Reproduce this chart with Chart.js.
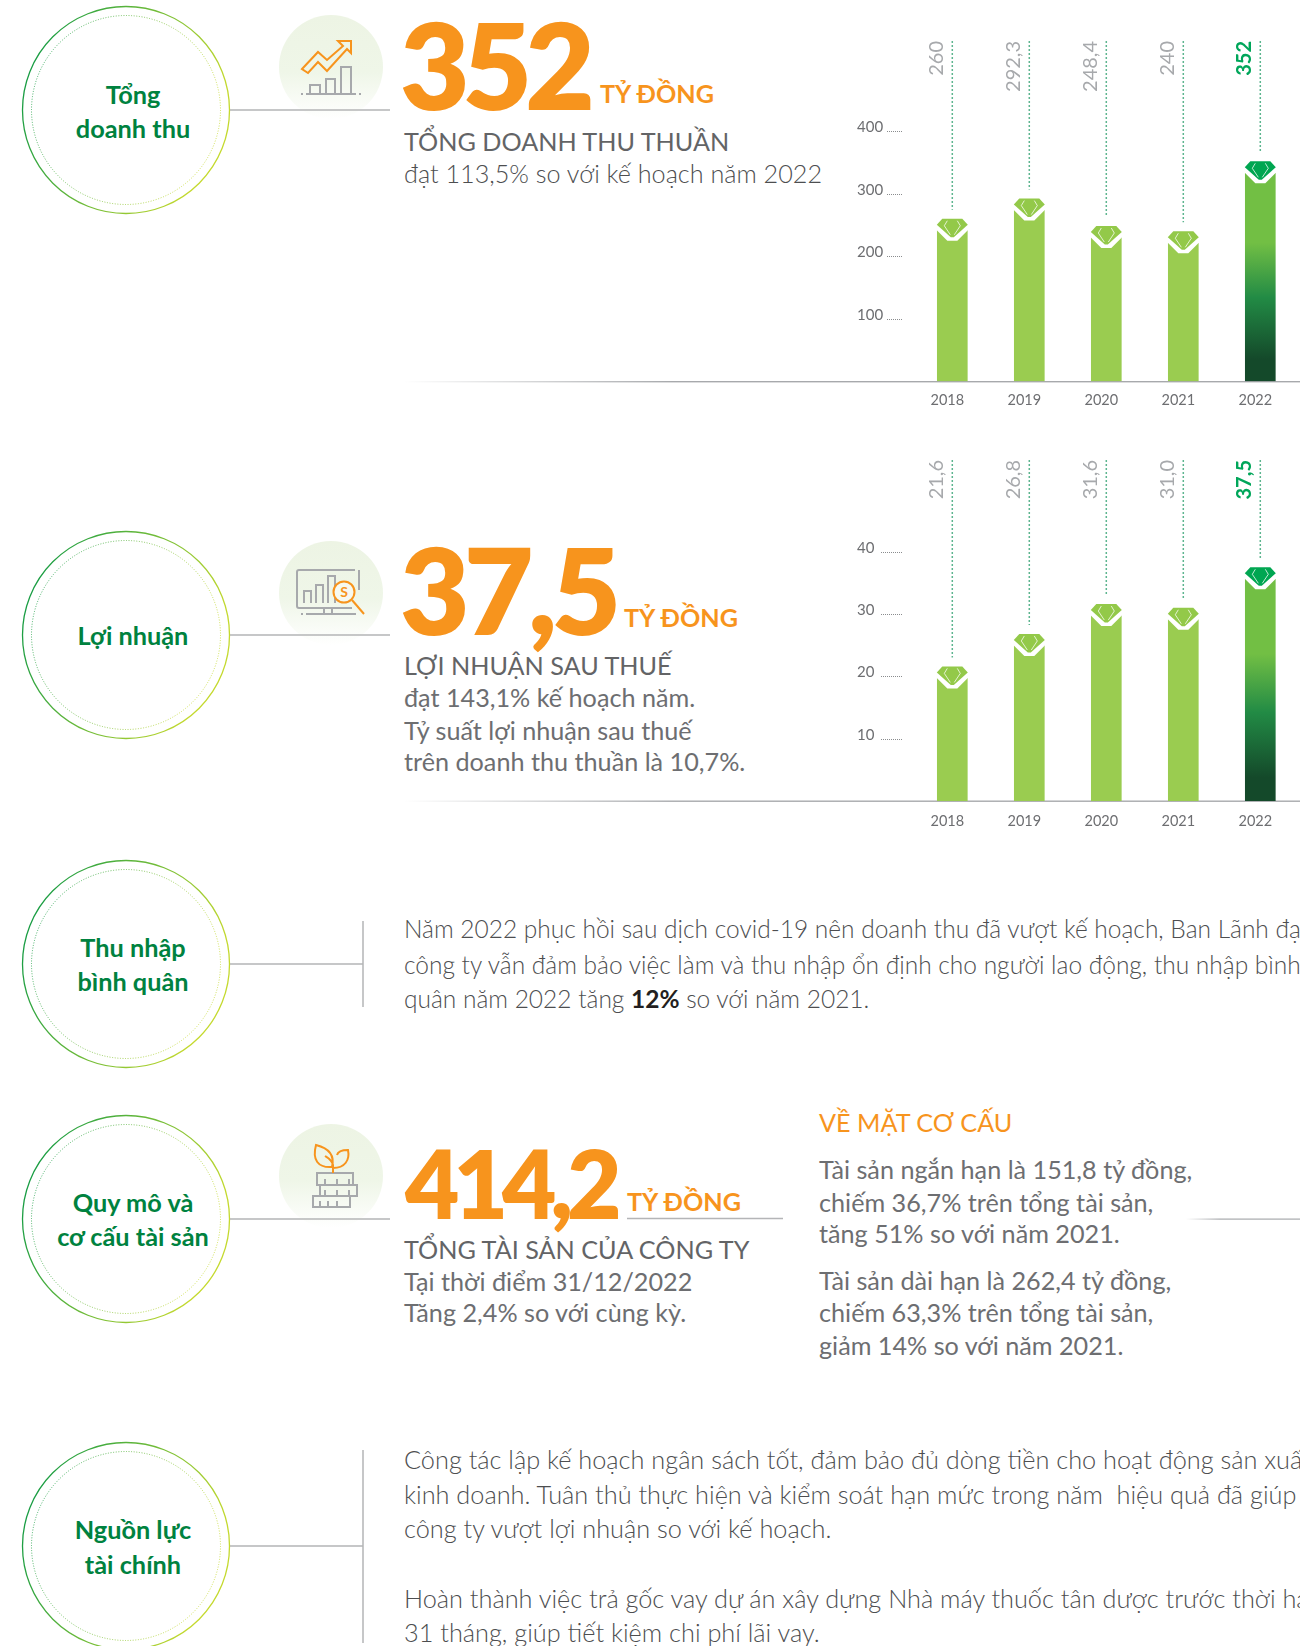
<!DOCTYPE html>
<html lang="vi">
<head>
<meta charset="utf-8">
<title>Tổng doanh thu</title>
<script src="https://cdn.jsdelivr.net/npm/chart.js@4"></script>
<style>
html, body { margin: 0; padding: 0; background: #fff; width: 1300px; height: 1646px; overflow: hidden; }
svg { position: absolute; left: 0; top: 0; }
canvas { position: absolute; }
text { font-family: Lato, "Open Sans", sans-serif; }
.big { font-weight: 800; fill: #F7941D; }
.unit { font-size: 25.2px; font-weight: 700; fill: #F7941D; }
.head { font-size: 25.2px; fill: #636466; }
.body { font-size: 25.2px; fill: #6D6E71; }
.light { font-size: 25.2px; font-weight: 300; fill: #4D4E50; }
.para { font-size: 24.5px; font-weight: 300; fill: #4D4E50; }
.para5 { font-size: 25.3px; font-weight: 300; fill: #4D4E50; }
.name { font-size: 25.3px; font-weight: 700; fill: #00823F; text-anchor: middle; }
.ln { stroke: #B4B5B7; stroke-width: 1.5; fill: none; }
.gr { stroke: #A7A9AC; stroke-width: 2; fill: none; }
.or { stroke: #F7941D; stroke-width: 2; fill: none; }
</style>
</head>
<body>
<svg width="1300" height="1646" xmlns="http://www.w3.org/2000/svg">
  <defs>
    <linearGradient id="ring" x1="0" y1="0" x2="1" y2="0.35">
      <stop offset="0" stop-color="#009447"/><stop offset="1" stop-color="#C4D92E"/>
    </linearGradient>
    <linearGradient id="soft" x1="0" y1="0" x2="0" y2="1">
      <stop offset="0" stop-color="#EDF4E4"/><stop offset="0.55" stop-color="#EFF6E8"/><stop offset="1" stop-color="#FFFFFF"/>
    </linearGradient>
    <linearGradient id="fadeL" x1="0" y1="0" x2="1" y2="0">
      <stop offset="0" stop-color="#A7A9AC" stop-opacity="0"/><stop offset="0.3" stop-color="#A7A9AC"/><stop offset="1" stop-color="#A7A9AC"/>
    </linearGradient>
    <g id="rings">
      <circle r="103.5" fill="none" stroke="url(#ring)" stroke-width="1.3"/>
      <circle r="94.5" fill="none" stroke="url(#ring)" stroke-width="1" stroke-dasharray="1 1.6" opacity="0.8"/>
    </g>
  </defs>

  <!-- rows: circles and connectors -->
  <use href="#rings" x="126" y="110"/>
  <use href="#rings" x="126" y="635"/>
  <use href="#rings" x="126" y="964"/>
  <use href="#rings" x="126" y="1219"/>
  <use href="#rings" x="126" y="1546"/>

  <circle cx="331" cy="67" r="52" fill="url(#soft)"/>
  <circle cx="331" cy="593" r="52" fill="url(#soft)"/>
  <circle cx="331" cy="1176" r="52" fill="url(#soft)"/>

  <path class="ln" d="M230 110H390M230 635H390M230 964H363M363 921V1007M230 1219H390M627 1218.5H783M230 1546H363M363 1450V1643"/>
  <rect x="1186" y="1218.5" width="114" height="1.2" fill="url(#fadeL)"/>
  <rect x="404" y="381" width="896" height="1.4" fill="url(#fadeL)"/>
  <rect x="404" y="800.5" width="896" height="1.4" fill="url(#fadeL)"/>

  <!-- icon 1 -->
  <path class="or" stroke-width="1.6" d="M302 69L318 52L327 60L343 46L338 41H351V53L347 49L327 71L318 62L308 73Z"/>
  <path class="gr" d="M310 94V85H320V94M326 94V79H335V94M341 94V67H351V94M306 94H356M301 94H303M359 94H361"/>
  <!-- icon 2 -->
  <path class="gr" d="M304 603V591H311V603M316 603V585H323V603M328 603V576H335V603M355 570H299Q297 570 297 572V606Q297 608 299 608H352M359 570V590M324 608V614M332 608V614M306 614H356M301 614H303"/>
  <circle class="or" cx="344" cy="592" r="10.5" style="fill:#F6F9F0"/>
  <path class="or" d="M352 600L364 614"/>
  <text x="344" y="597" text-anchor="middle" style="font-size:14px;font-weight:700;fill:#F7941D">S</text>
  <!-- icon 3 -->
  <path class="gr" d="M317 1173H353V1185H317ZM320 1185H357V1196H320ZM313 1196H350V1207H313ZM325 1179V1185M337 1179V1185M349 1179V1185M325 1190V1196M337 1190V1196M349 1190V1196M320 1201V1207M328 1201V1207M337 1201V1207"/>
  <path class="or" d="M316 1145C312 1160 318 1168 332 1167C335 1155 328 1148 316 1145ZM333 1168C345 1168 350 1160 348 1150C342 1150 338 1151 337 1155M333 1173V1165C332 1160 328 1158 325 1156"/>

  <!-- circle names -->
  <text class="name" x="133" y="104">Tổng</text>
  <text class="name" x="133" y="138">doanh thu</text>
  <text class="name" x="133" y="645">Lợi nhuận</text>
  <text class="name" x="133" y="957">Thu nhập</text>
  <text class="name" x="133" y="991">bình quân</text>
  <text class="name" x="133" y="1212">Quy mô và</text>
  <text class="name" x="133" y="1246">cơ cấu tài sản</text>
  <text class="name" x="133" y="1539">Nguồn lực</text>
  <text class="name" x="133" y="1574">tài chính</text>

  <!-- row 1 -->
  <text class="big" x="400" y="110" style="font-size:120px;letter-spacing:-7px">352</text>
  <text class="unit" x="600" y="102.5">TỶ ĐỒNG</text>
  <text class="head" x="404" y="150.5">TỔNG DOANH THU THUẦN</text>
  <text class="light" x="404" y="183">đạt 113,5% so với kế hoạch năm 2022</text>

  <!-- row 2 -->
  <text class="big" x="400" y="635" style="font-size:120px;letter-spacing:-5.5px">37,5</text>
  <text class="unit" x="624" y="627">TỶ ĐỒNG</text>
  <text class="head" x="404" y="675">LỢI NHUẬN SAU THUẾ</text>
  <text class="body" x="404" y="707">đạt 143,1% kế hoạch năm.</text>
  <text class="body" x="404" y="740">Tỷ suất lợi nhuận sau thuế</text>
  <text class="body" x="404" y="771">trên doanh thu thuần là 10,7%.</text>

  <!-- row 3 -->
  <text class="para" x="404" y="938">Năm 2022 phục hồi sau dịch covid-19 nên doanh thu đã vượt kế hoạch, Ban Lãnh đạo</text>
  <text class="para" x="404" y="974">công ty vẫn đảm bảo việc làm và thu nhập ổn định cho người lao động, thu nhập bình</text>
  <text class="para" x="404" y="1008">quân năm 2022 tăng <tspan font-weight="700" fill="#231F20">12%</tspan> so với năm 2021.</text>

  <!-- row 4 -->
  <text class="big" x="405" y="1219" style="font-size:94px;letter-spacing:-6px">414,2</text>
  <text class="unit" x="627" y="1211">TỶ ĐỒNG</text>
  <text class="head" x="404" y="1259">TỔNG TÀI SẢN CỦA CÔNG TY</text>
  <text class="body" x="404" y="1291">Tại thời điểm 31/12/2022</text>
  <text class="body" x="404" y="1322">Tăng 2,4% so với cùng kỳ.</text>
  <text x="819" y="1132" style="font-size:25.2px;fill:#F7941D">VỀ MẶT CƠ CẤU</text>
  <text class="body" x="819" y="1179">Tài sản ngắn hạn là 151,8 tỷ đồng,</text>
  <text class="body" x="819" y="1212">chiếm 36,7% trên tổng tài sản,</text>
  <text class="body" x="819" y="1243">tăng 51% so với năm 2021.</text>
  <text class="body" x="819" y="1290">Tài sản dài hạn là 262,4 tỷ đồng,</text>
  <text class="body" x="819" y="1322">chiếm 63,3% trên tổng tài sản,</text>
  <text class="body" x="819" y="1355">giảm 14% so với năm 2021.</text>

  <!-- row 5 -->
  <text class="para5" x="404" y="1469">Công tác lập kế hoạch ngân sách tốt, đảm bảo đủ dòng tiền cho hoạt động sản xuất</text>
  <text class="para5" x="404" y="1504" xml:space="preserve">kinh doanh. Tuân thủ thực hiện và kiểm soát hạn mức trong năm  hiệu quả đã giúp</text>
  <text class="para5" x="404" y="1538">công ty vượt lợi nhuận so với kế hoạch.</text>
  <text class="para5" x="404" y="1608">Hoàn thành việc trả gốc vay dự án xây dựng Nhà máy thuốc tân dược trước thời hạn</text>
  <text class="para5" x="404" y="1642">31 tháng, giúp tiết kiệm chi phí lãi vay.</text>
</svg>

<canvas id="revenueChart" width="443" height="400" style="left:857px;top:20px"></canvas>
<canvas id="profitChart" width="443" height="400" style="left:857px;top:440px"></canvas>

<script>
var categories = ['2018', '2019', '2020', '2021', '2022'];

var revenueValues = [260, 292.3, 248.4, 240, 352];
var revenueLabels = ['260', '292,3', '248,4', '240', '352'];
var revenueTicks = [100, 200, 300, 400];

var profitValues = [21.6, 26.8, 31.6, 31.0, 37.5];
var profitLabels = ['21,6', '26,8', '31,6', '31,0', '37,5'];
var profitTicks = [10, 20, 30, 40];

var LIME = '#9ACC50';
var LIME_DIAMOND = '#93C949';
var GREEN_DIAMOND = '#00A651';
var LAST = categories.length - 1;

function barColor(ctx) {
    if (ctx.dataIndex !== LAST) return LIME;
    var chart = ctx.chart;
    var y = chart.scales.y;
    if (!y || !chart.chartArea) return '#72BF44';
    // last bar fades to dark green at the base
    var top = y.getPixelForValue(ctx.raw);
    var g = chart.ctx.createLinearGradient(0, top, 0, y.getPixelForValue(0));
    g.addColorStop(0, '#72BF44');
    g.addColorStop(0.37, '#72BF44');
    g.addColorStop(0.62, '#228B45');
    g.addColorStop(0.9, '#14492A');
    g.addColorStop(1, '#14492A');
    return g;
}

// gem on top of each bar, the dotted leader and the rotated value
var barDecor = {
    id: 'barDecor',
    afterDatasetsDraw: function (chart, args, opts) {
        var c = chart.ctx;
        chart.getDatasetMeta(0).data.forEach(function (bar, i) {
            var x = bar.x, y = bar.y, hot = i === LAST;
            c.save();

            c.fillStyle = '#fff';
            c.beginPath();
            c.moveTo(x - 16, y - 1);
            c.lineTo(x + 16, y - 1);
            c.lineTo(x + 16, y + 11);
            c.lineTo(x + 5, y + 22);
            c.lineTo(x - 5, y + 22);
            c.lineTo(x - 16, y + 11);
            c.closePath();
            c.fill();

            c.fillStyle = hot ? GREEN_DIAMOND : LIME_DIAMOND;
            c.beginPath();
            c.moveTo(x - 10, y);
            c.lineTo(x + 10, y);
            c.lineTo(x + 15.5, y + 6);
            c.lineTo(x + 1.5, y + 18.5);
            c.lineTo(x - 1.5, y + 18.5);
            c.lineTo(x - 15.5, y + 6);
            c.closePath();
            c.fill();

            c.strokeStyle = 'rgba(255,255,255,0.75)';
            c.lineWidth = 1;
            c.beginPath();
            c.moveTo(x - 5, y + 2);
            c.lineTo(x - 8, y + 7);
            c.lineTo(x - 2, y + 16);
            c.moveTo(x + 5, y + 2);
            c.lineTo(x + 8, y + 7);
            c.lineTo(x + 2, y + 16);
            c.stroke();

            c.strokeStyle = '#5DB58F';
            c.lineWidth = 1.5;
            c.setLineDash([2, 2]);
            c.beginPath();
            c.moveTo(x, opts.leaderTop);
            c.lineTo(x, y - 9);
            c.stroke();
            c.setLineDash([]);

            // values read upward and end level with the leader top
            c.translate(x - 16, opts.leaderTop);
            c.rotate(-Math.PI / 2);
            c.font = (hot ? '700 ' : '400 ') + '20px Lato';
            c.fillStyle = hot ? '#00A65A' : '#A7A9AC';
            c.textAlign = 'right';
            c.textBaseline = 'middle';
            c.fillText(opts.labels[i], 0, 0);
            c.restore();
        });

        var s = chart.scales.y;
        c.save();
        c.strokeStyle = '#8A8C8E';
        c.lineWidth = 1;
        c.setLineDash([1, 1]);
        s.ticks.forEach(function (t) {
            var py = Math.round(s.getPixelForValue(t.value)) + 0.5;
            c.beginPath();
            c.moveTo(opts.tickFrom, py);
            c.lineTo(opts.tickTo, py);
            c.stroke();
        });
        c.restore();
    }
};

function makeChart(id, values, labels, ticks, decor) {
    return new Chart(document.getElementById(id), {
        type: 'bar',
        data: {
            labels: categories,
            datasets: [{ data: values, backgroundColor: barColor, borderWidth: 0, barThickness: 30 }]
        },
        plugins: [barDecor],
        options: {
            responsive: false,
            animation: false,
            events: [],
            layout: { padding: { top: decor.top, right: 1.2 } },
            plugins: {
                legend: { display: false },
                title: { display: false },
                tooltip: { enabled: false },
                barDecor: decor
            },
            scales: {
                x: {
                    grid: { display: false },
                    border: { display: false },
                    afterFit: function (scale) { scale.height = decor.bottom; },
                    ticks: {
                        color: '#6D6E71',
                        font: { family: 'Lato', size: 14.5 },
                        labelOffset: -5,
                        padding: decor.xPad,
                        maxRotation: 0
                    }
                },
                y: {
                    min: 0,
                    max: ticks[ticks.length - 1],
                    grid: { display: false },
                    border: { display: false },
                    afterFit: function (scale) { scale.width = 56.8; },
                    afterBuildTicks: function (scale) {
                        scale.ticks = ticks.map(function (v) { return { value: v }; });
                    },
                    ticks: {
                        color: '#6D6E71',
                        font: { family: 'Lato', size: 15 },
                        crossAlign: 'far',
                        labelOffset: -4,
                        padding: 0
                    }
                }
            }
        }
    });
}

makeChart('revenueChart', revenueValues, revenueLabels, revenueTicks, {
    labels: revenueLabels, top: 111.3, bottom: 38.8, xPad: 2, leaderTop: 21, tickFrom: 30, tickTo: 46
});
makeChart('profitChart', profitValues, profitLabels, profitTicks, {
    labels: profitLabels, top: 111.7, bottom: 39, xPad: 4, leaderTop: 20, tickFrom: 24, tickTo: 46
});
</script>
</body>
</html>
